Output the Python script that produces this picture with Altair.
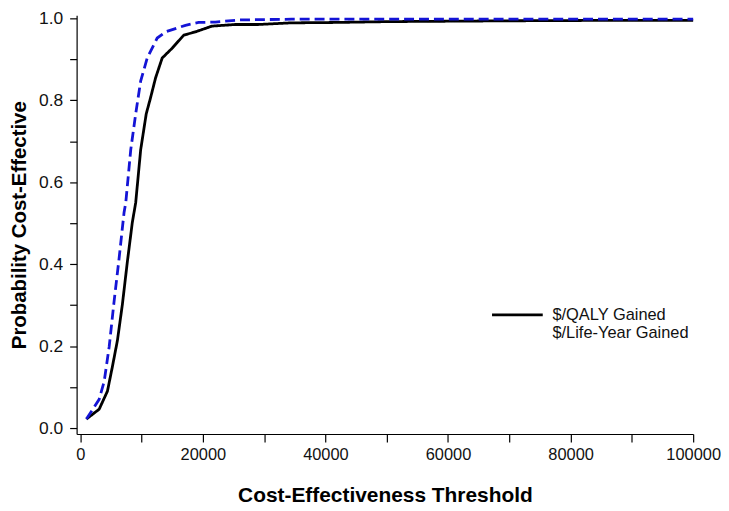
import altair as alt
import pandas as pd

series_names = ["$/QALY Gained", "$/Life-Year Gained"]

qaly_x = [1000, 3080, 4430, 5240, 6060, 6870, 7680, 8490, 9040, 9850, 10760, 11480,
          12290, 13360, 14980, 16880, 18780, 21480, 25280, 29060, 34420, 42000,
          50000, 60000, 70000, 85000, 100000]
qaly_y = [0.022, 0.046, 0.090, 0.150, 0.214, 0.302, 0.406, 0.502, 0.550, 0.679, 0.767,
          0.807, 0.855, 0.903, 0.927, 0.959, 0.967, 0.981, 0.985, 0.985, 0.989, 0.990,
          0.992, 0.993, 0.994, 0.995, 0.995]

life_x = [1000, 3080, 3900, 4710, 5520, 6330, 7140, 7420, 8230, 9040, 9850, 10920,
          12550, 13910, 17160, 19320, 22030, 25810, 34460, 50000, 100000]
life_y = [0.022, 0.070, 0.114, 0.198, 0.310, 0.414, 0.526, 0.550, 0.679, 0.767, 0.847,
          0.903, 0.952, 0.967, 0.983, 0.990, 0.991, 0.996, 0.998, 0.998, 0.998]

x_ticks = [0, 10000, 20000, 30000, 40000, 50000, 60000, 70000, 80000, 90000, 100000]
y_ticks = [0.0, 0.1, 0.2, 0.3, 0.4, 0.5, 0.6, 0.7, 0.8, 0.9, 1.0]

rows = []
for x, y in zip(qaly_x, qaly_y):
    rows.append({"threshold": x, "prob": y, "series": series_names[0]})
for x, y in zip(life_x, life_y):
    rows.append({"threshold": x, "prob": y, "series": series_names[1]})
df = pd.DataFrame(rows)

FONT = "Liberation Sans"

chart = alt.Chart(df).mark_line(strokeWidth=2.8).encode(
    x=alt.X("threshold:Q",
            scale=alt.Scale(domain=[-600, 100000], nice=False, zero=False),
            axis=alt.Axis(values=x_ticks, format="d",
                          labelExpr="datum.value % 20000 === 0 ? datum.label : ''",
                          title="Cost-Effectiveness Threshold",
                          labelFlush=False, labelOverlap=False, labelFontSize=16.5,
                          tickSize=8, labelPadding=5, titlePadding=21)),
    y=alt.Y("prob:Q",
            scale=alt.Scale(domain=[-0.01456, 1.00728], nice=False, zero=False),
            axis=alt.Axis(values=y_ticks, format=".1f",
                          labelExpr="round(datum.value * 10) % 2 === 0 ? datum.label : ''",
                          title="Probability Cost-Effective", titleFontSize=20.5,
                          labelFlush=False, labelOverlap=False, labelFontSize=17.5,
                          tickSize=7, labelPadding=7, titlePadding=9)),
    color=alt.Color("series:N",
                    scale=alt.Scale(domain=series_names, range=["#000000", "#1414d6"]),
                    sort=series_names,
                    legend=alt.Legend(
                        title=None, orient="none", legendX=435, legendY=293,
                        symbolType="M-5,0H5", symbolSize=104, symbolStrokeWidth=2.8,
                        symbolOpacity={"expr": "datum.index === 0 ? 1 : 0"},
                        labelFontSize=16.5, labelFont=FONT, labelColor="#111111",
                        labelOffset=27, rowPadding=1)),
    strokeDash=alt.StrokeDash("series:N",
                              scale=alt.Scale(domain=series_names, range=[[1, 0], [10, 5]]),
                              legend=None),
).properties(
    width=620, height=421,
    padding={"left": 69, "top": 6, "right": 28, "bottom": 74},
    autosize=alt.AutoSizeParams(type="none"),
).configure_view(
    stroke=None
).configure_axis(
    grid=False,
    domainColor="#000000", domainWidth=1.2,
    tickColor="#000000", tickWidth=1.2,
    labelFont=FONT, labelColor="#111111",
    titleFont=FONT, titleFontSize=21, titleFontWeight="bold", titleColor="#000000",
)

chart.save("out.html", embed_options={"renderer": "svg", "actions": False})
